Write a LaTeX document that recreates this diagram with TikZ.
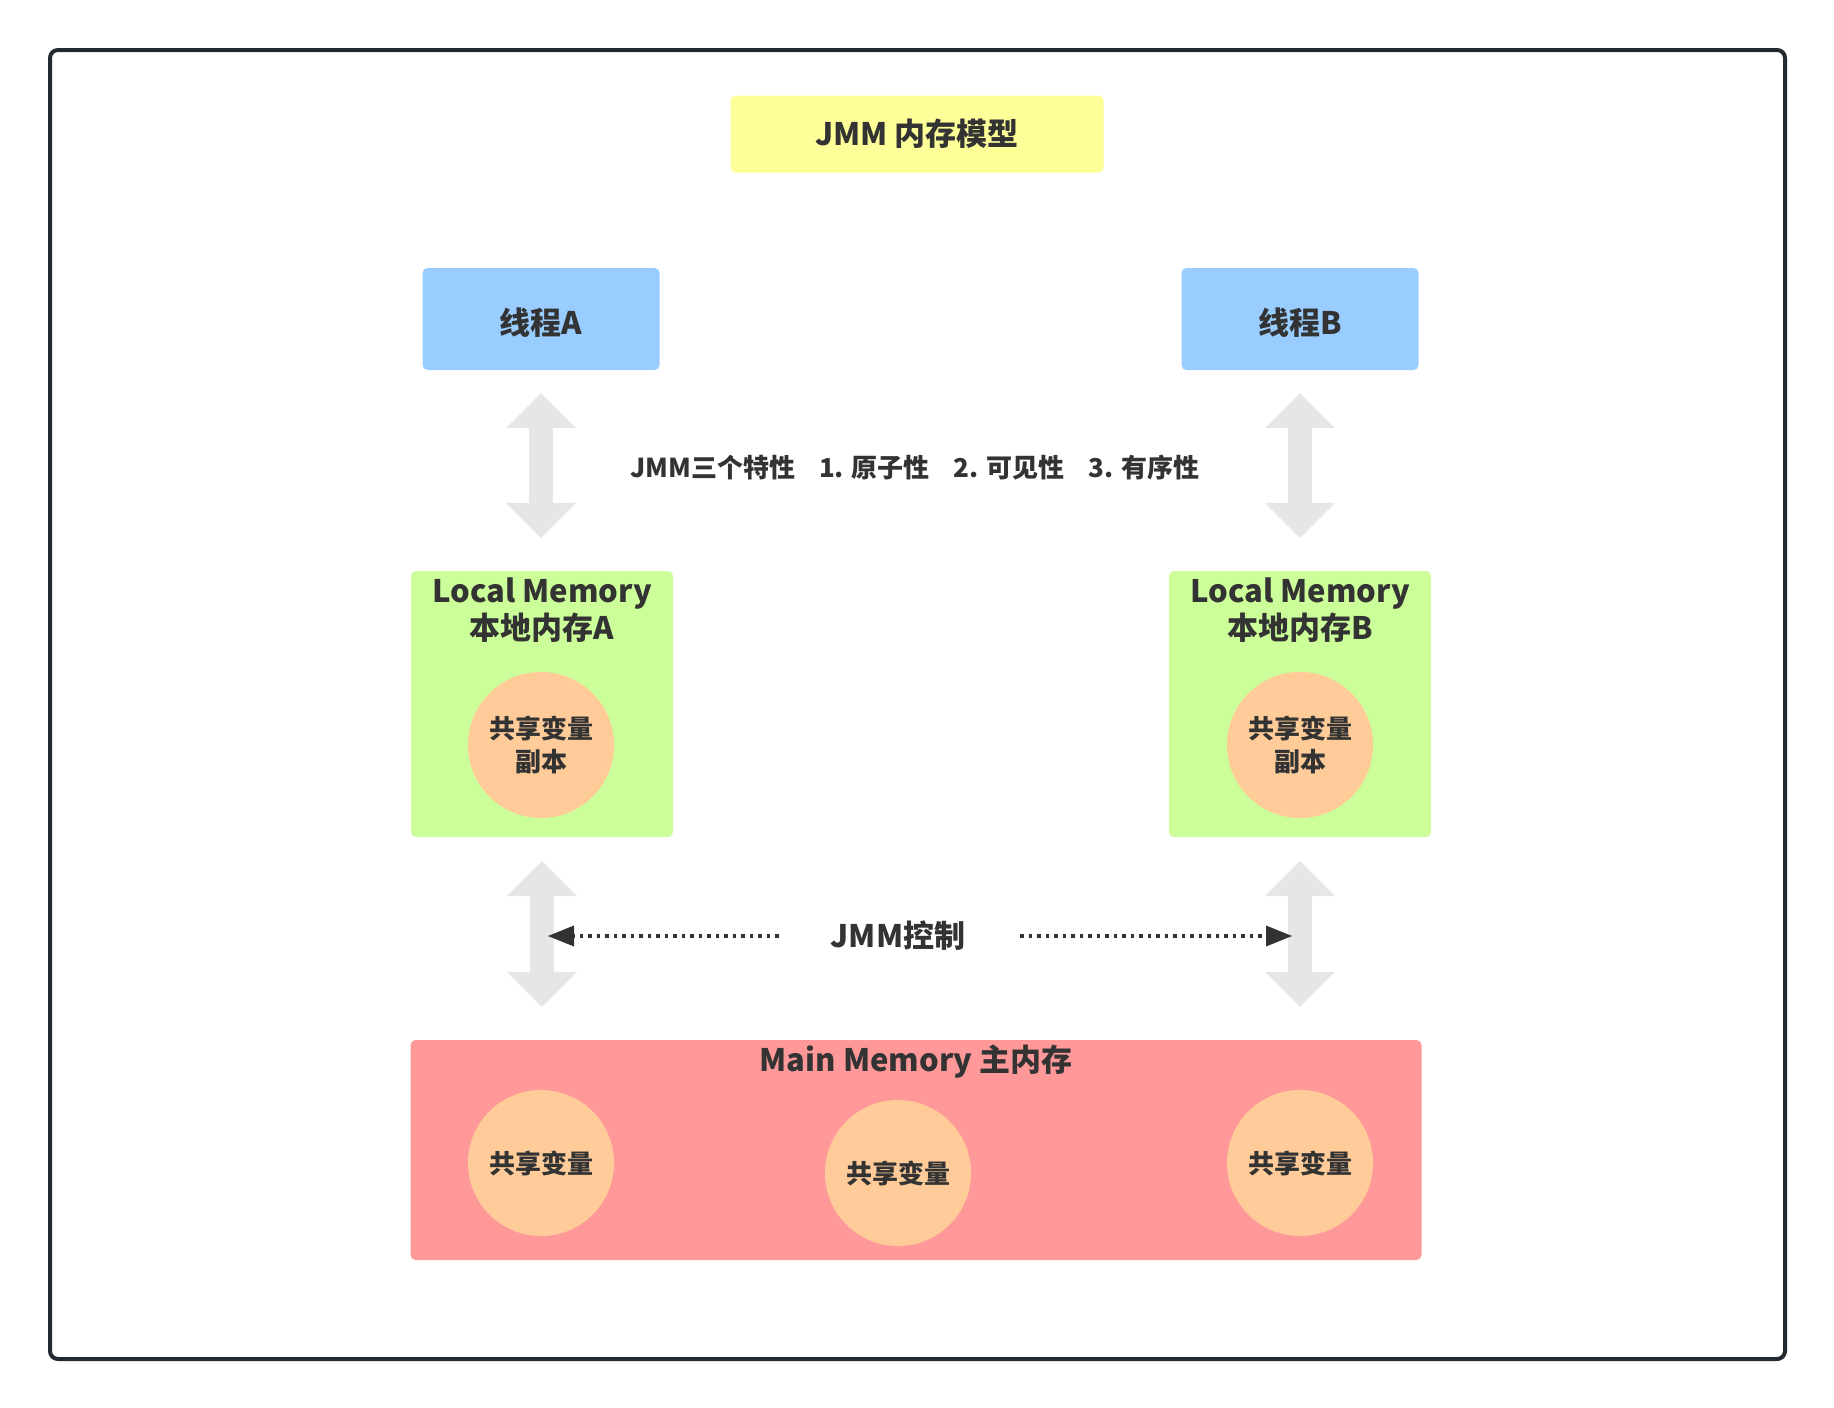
\documentclass[tikz,border=0pt]{standalone}
\usepackage{fontspec}
\setmainfont{Noto Sans CJK SC}
\usepackage{tikz}
\usetikzlibrary{arrows.meta}
\definecolor{txt}{RGB}{51, 51, 51}
\definecolor{frame}{RGB}{35, 42, 50}
\definecolor{yellow}{RGB}{255, 255, 153}
\definecolor{blue}{RGB}{153, 204, 255}
\definecolor{green}{RGB}{204, 255, 153}
\definecolor{peach}{RGB}{255, 204, 153}
\definecolor{pink}{RGB}{255, 153, 153}
\definecolor{arrowgray}{RGB}{230, 230, 230}

\tikzset{
  big/.style={font=\fontsize{31}{37}\selectfont\bfseries, text=txt},
  small/.style={font=\fontsize{26}{33}\selectfont\bfseries, text=txt},
  box/.style={big, rounded corners=5pt, inner sep=0pt},
  thread/.style={box, fill=blue, minimum width=237pt, minimum height=102pt, text height=33pt},
  localbox/.style={box, fill=green, minimum width=262pt, minimum height=266pt},
  mainbox/.style={box, fill=pink, minimum width=1011pt, minimum height=220pt},
  share/.style={small, circle, fill=peach, minimum size=146pt, inner sep=0pt, align=center},
  lbl/.style={big, inner sep=0pt, anchor=base},
  fat/.style={line width=24pt, draw=arrowgray,
    {Triangle[length=35pt, width=70pt, line width=0pt]}-{Triangle[length=35pt, width=70pt, line width=0pt]}},
  ctlarrow/.style={line width=4pt, draw=txt, dash pattern=on 3.5pt off 5pt,
    -{Triangle[length=26pt, width=21pt, line width=0pt]}}
}

\begin{document}
\begin{tikzpicture}[x=1pt, y=-1pt]
        % Page and frame
        \useasboundingbox[fill=white] (0,0) rectangle (1834,1408);
        \draw[line width=4pt, frame, rounded corners=8pt] (50,50) rectangle (1785,1359);

        % Title
        \node[box, fill=yellow, minimum width=373pt, minimum height=77pt] (title) at (917,134) {JMM 内存模型};

        % Threads
        \node[thread] (tA) at (541,319) {线程A};
        \node[thread] (tB) at (1300,319) {线程B};

        % Local memories with copies
        \node[localbox, label={[lbl, yshift=-32pt]north:Local Memory},
              label={[lbl, yshift=-69pt]north:本地内存A}] (lA) at (542,704) {};
        \node[localbox, label={[lbl, yshift=-32pt]north:Local Memory},
              label={[lbl, yshift=-69pt]north:本地内存B}] (lB) at (1300,704) {};
        \node[share] (cA) at (541,745) {共享变量\\副本};
        \node[share] (cB) at (1300,745) {共享变量\\副本};

        % Main memory with shared variables
        \node[mainbox, label={[lbl, yshift=-32pt]north:Main Memory 主内存}] (main) at (916,1150) {};
        \node[share] (m1) at (541,1163) {共享变量};
        \node[share] (m2) at (898,1173) {共享变量};
        \node[share] (m3) at (1300,1163) {共享变量};

        % Texts between the rows
        \node[small, inner sep=0pt] (feat) at (915,468)
            {JMM三个特性\hspace{24pt}1. 原子性\hspace{24pt}2. 可见性\hspace{24pt}3. 有序性};
        \node[big, inner sep=0pt] (ctl) at (898,936) {JMM控制};

        % Wide double arrows
        \draw[fat, shorten <=23pt, shorten >=33pt] (tA.south) -- (tA.south |- lA.north);
        \draw[fat, shorten <=23pt, shorten >=33pt] (tB.south) -- (tB.south |- lB.north);
        \draw[fat, shorten <=24pt, shorten >=33pt] (lA.south) -- (lA.south |- main.north);
        \draw[fat, shorten <=24pt, shorten >=33pt] (lB.south) -- (lB.south |- main.north);

        % Dotted control arrows
        \draw[ctlarrow, shorten <=52pt, shorten >=6pt] (ctl.west) -- (ctl.west -| lA.south);
        \draw[ctlarrow, shorten <=55pt, shorten >=8pt] (ctl.east) -- (ctl.east -| lB.south);
    \end{tikzpicture}
\end{document}
